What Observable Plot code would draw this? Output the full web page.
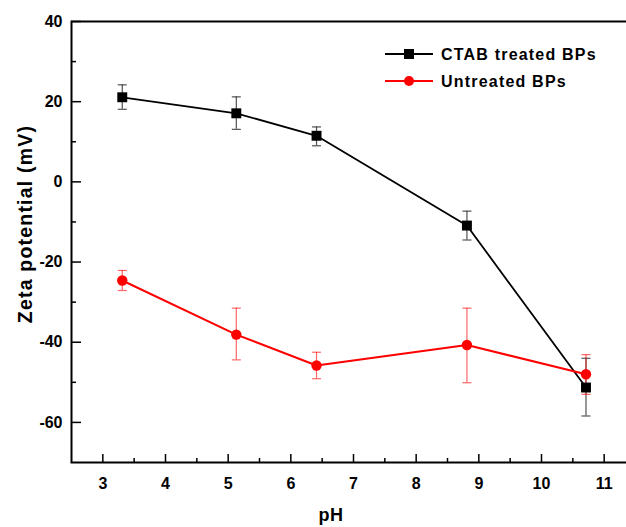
<!DOCTYPE html>
<html><head><meta charset="utf-8">
<script src="https://cdn.jsdelivr.net/npm/d3@7"></script>
<script src="https://cdn.jsdelivr.net/npm/@observablehq/plot@0.6"></script>
<style>
body{margin:0;background:#fff;font-family:"Liberation Sans",Arial,sans-serif}
#wrap{position:relative;width:626px;height:527px;overflow:hidden;background:#fff}
#legend{position:absolute;left:0;top:0}
</style>
</head><body><div id="wrap"></div>
<script>
const pH = [3.31, 5.13, 6.41, 8.81, 10.71];
const ctab = [21.1, 17.1, 11.5, -10.9, -51.3];
const ctabLow = [18.1, 13.1, 9.0, -14.5, -58.4];
const ctabHigh = [24.2, 21.2, 13.7, -7.3, -44.0];
const untreated = [-24.6, -38.1, -45.8, -40.7, -48.0];
const untreatedLow = [-27.1, -44.4, -49.1, -50.1, -53.0];
const untreatedHigh = [-22.1, -31.5, -42.5, -31.5, -43.1];
const seriesNames = ["CTAB treated BPs", "Untreated BPs"];
const seriesColors = ["#000000", "#ff0000"];
const xTicks = [3, 4, 5, 6, 7, 8, 9, 10, 11];
const xMinor = [3.5, 4.5, 5.5, 6.5, 7.5, 8.5, 9.5, 10.5];
const yTicks = [-60, -40, -20, 0, 20, 40];
const yMinor = [-50, -30, -10, 10, 30];
const xLabel = "pH";
const yLabel = "Zeta potential (mV)";

const rows = (vals, lo, hi, s) => pH.map((x, i) => ({x, y: vals[i], lo: lo[i], hi: hi[i], s}));
const dA = rows(ctab, ctabLow, ctabHigh, seriesNames[0]);
const dB = rows(untreated, untreatedLow, untreatedHigh, seriesNames[1]);

const W = 626, H = 527, mL = 71, mR = -9, mT = 21, mB = 65;
const fw = W - mL - mR, fh = H - mT - mB;
const cap = {draw(ctx) { ctx.moveTo(-4.5, 0); ctx.lineTo(4.5, 0); }};
const errMarks = (d, color, op) => [
  Plot.ruleX(d, {x: "x", y1: "lo", y2: "hi", stroke: color, strokeOpacity: op, strokeWidth: 1.2}),
  Plot.dot(d, {x: "x", y: "lo", symbol: cap, stroke: color, strokeOpacity: op, strokeWidth: 1.2, fill: "none", r: 4}),
  Plot.dot(d, {x: "x", y: "hi", symbol: cap, stroke: color, strokeOpacity: op, strokeWidth: 1.2, fill: "none", r: 4})
];

const chart = Plot.plot({
  width: W, height: H,
  marginLeft: mL, marginRight: mR, marginTop: mT, marginBottom: mB,
  style: {fontFamily: "'Liberation Sans', Arial, sans-serif", background: "transparent", overflow: "visible"},
  x: {domain: [2.5, 11.5]},
  y: {domain: [-70, 40]},
  marks: [
    Plot.axisX({ticks: xTicks, tickSize: 0, tickPadding: 15, fontSize: 16, fontWeight: "bold", label: null, tickFormat: d => String(d), fill: "#000"}),
    Plot.axisY({ticks: yTicks, tickSize: 0, tickPadding: 9, fontSize: 16, fontWeight: "bold", label: null, tickFormat: d => String(d), fill: "#000"}),
    Plot.ruleX(xTicks, {insetTop: fh - 8, stroke: "#000", strokeWidth: 1.5}),
    Plot.ruleX(xMinor, {insetTop: fh - 4, stroke: "#000", strokeWidth: 1.5}),
    Plot.ruleY(yTicks, {insetRight: fw - 10, stroke: "#000", strokeWidth: 1.5}),
    Plot.ruleY(yMinor, {insetRight: fw - 5, stroke: "#000", strokeWidth: 1.5}),
    Plot.frame({stroke: "#000", strokeWidth: 2}),
    ...errMarks(dA, "#333", 0.85),
    ...errMarks(dB, "#ff0000", 0.6),
    Plot.line(dA, {x: "x", y: "y", stroke: seriesColors[0], strokeWidth: 1.8}),
    Plot.line(dB, {x: "x", y: "y", stroke: seriesColors[1], strokeWidth: 2}),
    Plot.dot(dA, {x: "x", y: "y", symbol: "square", r: 5.6, fill: seriesColors[0]}),
    Plot.dot(dB, {x: "x", y: "y", symbol: "circle", r: 5.2, fill: seriesColors[1]})
  ]
});
const wrap = document.getElementById("wrap");
wrap.appendChild(chart);

// axis titles and legend overlay
const ov = d3.select(wrap).append("svg").attr("id", "legend").attr("width", W).attr("height", H)
  .style("font-family", "'Liberation Sans', Arial, sans-serif").style("font-weight", "bold");
ov.append("text").attr("x", 331).attr("y", 515).attr("dy", "0.35em").attr("text-anchor", "middle")
  .attr("font-size", 18).attr("letter-spacing", 0.5).text(xLabel);
ov.append("text").attr("transform", "translate(25,224) rotate(-90)").attr("dy", "0.35em").attr("text-anchor", "middle")
  .attr("font-size", 19.5).attr("letter-spacing", 1.2).text(yLabel);
const leg = [{y: 54, sym: "square"}, {y: 81, sym: "circle"}];
seriesNames.forEach((name, i) => {
  const g = ov.append("g");
  g.append("line").attr("x1", 385).attr("x2", 433).attr("y1", leg[i].y).attr("y2", leg[i].y)
    .attr("stroke", seriesColors[i]).attr("stroke-width", 2);
  if (leg[i].sym === "square") g.append("rect").attr("x", 404).attr("y", leg[i].y - 5).attr("width", 10).attr("height", 10).attr("fill", seriesColors[i]);
  else g.append("circle").attr("cx", 409).attr("cy", leg[i].y).attr("r", 5).attr("fill", seriesColors[i]);
  g.append("text").attr("x", 441).attr("y", leg[i].y).attr("dy", "0.35em").attr("font-size", 16)
    .attr("letter-spacing", 1.2).text(name);
});
</script>
</body></html>
